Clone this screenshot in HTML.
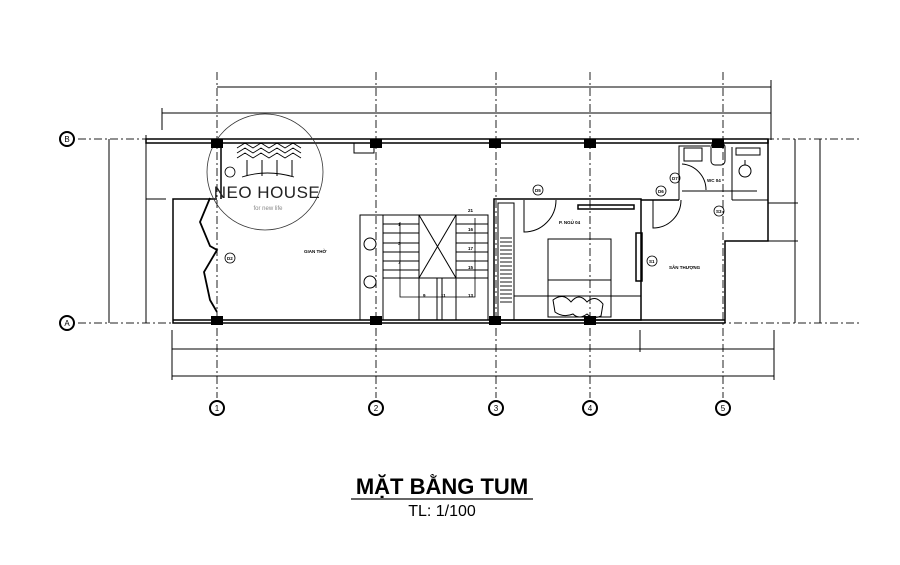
<!DOCTYPE html>
<html><head><meta charset="utf-8"><style>
html,body{margin:0;padding:0;background:#fff;}
svg{display:block;}
text{font-family:"Liberation Sans",sans-serif;}
</style></head><body>
<svg width="900" height="565" viewBox="0 0 900 565" xmlns="http://www.w3.org/2000/svg">
<g stroke="#000" fill="none" stroke-width="1">
<g stroke-dasharray="8,3,2,3" stroke="#222">
<line x1="217" y1="72" x2="217" y2="398"/>
<line x1="376" y1="72" x2="376" y2="398"/>
<line x1="496" y1="72" x2="496" y2="398"/>
<line x1="590" y1="72" x2="590" y2="398"/>
<line x1="723" y1="72" x2="723" y2="398"/>
<line x1="78" y1="139" x2="860" y2="139"/>
<line x1="78" y1="323" x2="860" y2="323"/>
</g>
<line x1="217" y1="87" x2="771" y2="87"/>
<line x1="162" y1="113" x2="771" y2="113"/>
<line x1="162" y1="108" x2="162" y2="130"/>
<line x1="771" y1="80" x2="771" y2="140"/>
<line x1="172" y1="349" x2="774" y2="349"/>
<line x1="172" y1="376" x2="774" y2="376"/>
<line x1="172" y1="330" x2="172" y2="380"/>
<line x1="774" y1="330" x2="774" y2="380"/>
<line x1="640" y1="330" x2="640" y2="352"/>
<line x1="109" y1="139" x2="109" y2="323"/>
<line x1="146" y1="135" x2="146" y2="323"/>
<line x1="146" y1="199" x2="166" y2="199"/>
<line x1="795" y1="139" x2="795" y2="323"/>
<line x1="820" y1="139" x2="820" y2="323"/>
<line x1="768" y1="203" x2="798" y2="203"/>
<line x1="768" y1="241" x2="798" y2="241"/>
<g stroke-width="2">
<circle cx="67" cy="139" r="7"/><circle cx="67" cy="323" r="7"/>
<circle cx="217" cy="408" r="7"/><circle cx="376" cy="408" r="7"/><circle cx="496" cy="408" r="7"/><circle cx="590" cy="408" r="7"/><circle cx="723" cy="408" r="7"/>
</g>
<g stroke-width="1.5">
<rect x="146" y="139" width="622" height="4"/>
<polyline points="768,139 768,241 725,241 725,323"/>
<polyline points="217,199 173,199 173,323 725,323"/>
<line x1="173" y1="320" x2="725" y2="320"/>
<line x1="221" y1="143" x2="221" y2="199"/>
</g>
<polyline points="210,198 200,222 210,246 217,250 204,272 210,300 217,312" stroke-width="1.8"/>
<rect x="360" y="215" width="128" height="105"/>
<line x1="383" y1="215" x2="383" y2="320"/>
<line x1="419" y1="215" x2="419" y2="320"/>
<line x1="456" y1="215" x2="456" y2="320"/>
<line x1="419" y1="215" x2="456" y2="278"/><line x1="456" y1="215" x2="419" y2="278"/>
<g>
<line x1="383" y1="224" x2="419" y2="224"/><line x1="383" y1="233" x2="419" y2="233"/><line x1="383" y1="243" x2="419" y2="243"/><line x1="383" y1="252" x2="419" y2="252"/><line x1="383" y1="261" x2="419" y2="261"/><line x1="383" y1="270" x2="419" y2="270"/><line x1="383" y1="278" x2="488" y2="278"/>
<line x1="456" y1="224" x2="488" y2="224"/><line x1="456" y1="233" x2="488" y2="233"/><line x1="456" y1="243" x2="488" y2="243"/><line x1="456" y1="252" x2="488" y2="252"/><line x1="456" y1="261" x2="488" y2="261"/><line x1="456" y1="270" x2="488" y2="270"/>
<line x1="437" y1="278" x2="437" y2="320"/><line x1="442" y1="278" x2="442" y2="320"/>
</g>
<polyline points="400,222 400,297 475,297 475,218" stroke-width="0.8"/>
<circle cx="370" cy="244" r="6"/><circle cx="370" cy="282" r="6"/>
<rect x="494" y="199" width="147" height="121" stroke-width="1.5"/>
<rect x="498" y="203" width="16" height="117"/>
<g stroke-width="0.9"><line x1="500" y1="238" x2="512" y2="238"/><line x1="500" y1="242" x2="512" y2="242"/><line x1="500" y1="246" x2="512" y2="246"/><line x1="500" y1="250" x2="512" y2="250"/><line x1="500" y1="254" x2="512" y2="254"/><line x1="500" y1="258" x2="512" y2="258"/><line x1="500" y1="262" x2="512" y2="262"/><line x1="500" y1="266" x2="512" y2="266"/><line x1="500" y1="270" x2="512" y2="270"/><line x1="500" y1="274" x2="512" y2="274"/><line x1="500" y1="278" x2="512" y2="278"/><line x1="500" y1="282" x2="512" y2="282"/><line x1="500" y1="286" x2="512" y2="286"/><line x1="500" y1="290" x2="512" y2="290"/><line x1="500" y1="294" x2="512" y2="294"/><line x1="500" y1="298" x2="512" y2="298"/><line x1="500" y1="302" x2="512" y2="302"/></g>
<path d="M524,200 L524,232 A32,32 0 0 0 556,200"/>
<rect x="578" y="205" width="56" height="4" stroke-width="1.5"/>
<rect x="548" y="239" width="63" height="78"/>
<line x1="548" y1="280" x2="611" y2="280"/><line x1="548" y1="296" x2="611" y2="296"/>
<line x1="514" y1="296" x2="641" y2="296"/>
<path d="M553,300 q10,-8 18,2 q8,-10 16,0 q8,-8 16,2 l-2,12 q-8,4 -14,-2 q-8,6 -14,0 q-10,4 -18,-2 z"/>
<rect x="636" y="233" width="6" height="48" stroke-width="1.5"/>
<path d="M653,200 L653,228 A28,28 0 0 0 681,200"/>
<polyline points="679,200 679,146 710,146"/>
<rect x="684" y="148" width="18" height="13"/>
<rect x="711" y="143" width="14" height="22" rx="4"/>
<path d="M682,164 A26,26 0 0 1 706,190"/>
<line x1="682" y1="191" x2="757" y2="191"/>
<line x1="732" y1="147" x2="732" y2="200"/>
<rect x="736" y="148" width="24" height="7"/>
<circle cx="745" cy="171" r="6"/><line x1="745" y1="160" x2="745" y2="165"/>
<line x1="732" y1="200" x2="768" y2="200"/>
<line x1="641" y1="200" x2="679" y2="200" stroke-width="1.5"/>
<g stroke-width="0.8">
<circle cx="230" cy="258" r="5"/><circle cx="230" cy="172" r="5"/>
<circle cx="538" cy="190" r="5"/><circle cx="661" cy="191" r="5"/><circle cx="675" cy="178" r="5"/><circle cx="719" cy="211" r="5"/><circle cx="652" cy="261" r="5"/>
</g>
<rect x="354" y="143" width="20" height="10"/>
<circle cx="265" cy="172" r="58" stroke-width="0.8" stroke="#333"/>
<path d="M237,158 l8,-5 8,5 8,-5 8,5 8,-5 8,5 8,-5 8,5 M237,153 l8,-5 8,5 8,-5 8,5 8,-5 8,5 8,-5 8,5 M237,148 l8,-5 8,5 8,-5 8,5 8,-5 8,5 8,-5 8,5" stroke-width="0.9"/>
<line x1="247" y1="160" x2="247" y2="176"/><line x1="262" y1="160" x2="262" y2="176"/><line x1="277" y1="160" x2="277" y2="176"/><line x1="292" y1="160" x2="292" y2="176"/>
<path d="M242,177 q25,-8 52,0" stroke-width="0.9"/>
</g>
<g fill="#000">
<rect x="211" y="139" width="12" height="9"/><rect x="370" y="139" width="12" height="9"/><rect x="489" y="139" width="12" height="9"/><rect x="584" y="139" width="12" height="9"/><rect x="712" y="139" width="12" height="9"/>
<rect x="211" y="316" width="12" height="9"/><rect x="370" y="316" width="12" height="9"/><rect x="489" y="316" width="12" height="9"/><rect x="584" y="316" width="12" height="9"/>
</g>
<g font-size="8" text-anchor="middle" fill="#000">
<text x="67" y="142">B</text><text x="67" y="326">A</text>
<text x="217" y="411">1</text><text x="376" y="411">2</text><text x="496" y="411">3</text><text x="590" y="411">4</text><text x="723" y="411">5</text>
</g>
<g font-size="4.5" fill="#000" font-weight="bold">
<text x="304" y="253">GIAN THỜ</text><text x="559" y="224">P. NGỦ 04</text><text x="669" y="269">SÂN THƯỢNG</text><text x="707" y="182">WC 04</text>
<text x="398" y="226">1</text><text x="398" y="245">3</text><text x="398" y="264">7</text><text x="468" y="212">21</text><text x="468" y="231">16</text><text x="468" y="250">17</text><text x="468" y="269">15</text><text x="423" y="297">9</text><text x="441" y="297">11</text><text x="468" y="297">13</text>
<text x="227" y="260">D2</text><text x="535" y="192">D5</text><text x="658" y="193">D6</text><text x="672" y="180">D7</text><text x="716" y="213">S3</text><text x="649" y="263">S1</text>
</g>
<text x="267" y="198" text-anchor="middle" font-size="17" fill="#222" letter-spacing="0.5">NEO HOUSE</text>
<text x="268" y="210" text-anchor="middle" font-size="6" fill="#888">for new life</text>
<text x="442" y="494" text-anchor="middle" font-size="22" font-weight="bold" fill="#000">MẶT BẰNG TUM</text>
<line x1="351" y1="499" x2="533" y2="499" stroke="#333" stroke-width="1.5"/>
<text x="442" y="516" text-anchor="middle" font-size="16" fill="#000">TL: 1/100</text>
</svg>
</body></html>
